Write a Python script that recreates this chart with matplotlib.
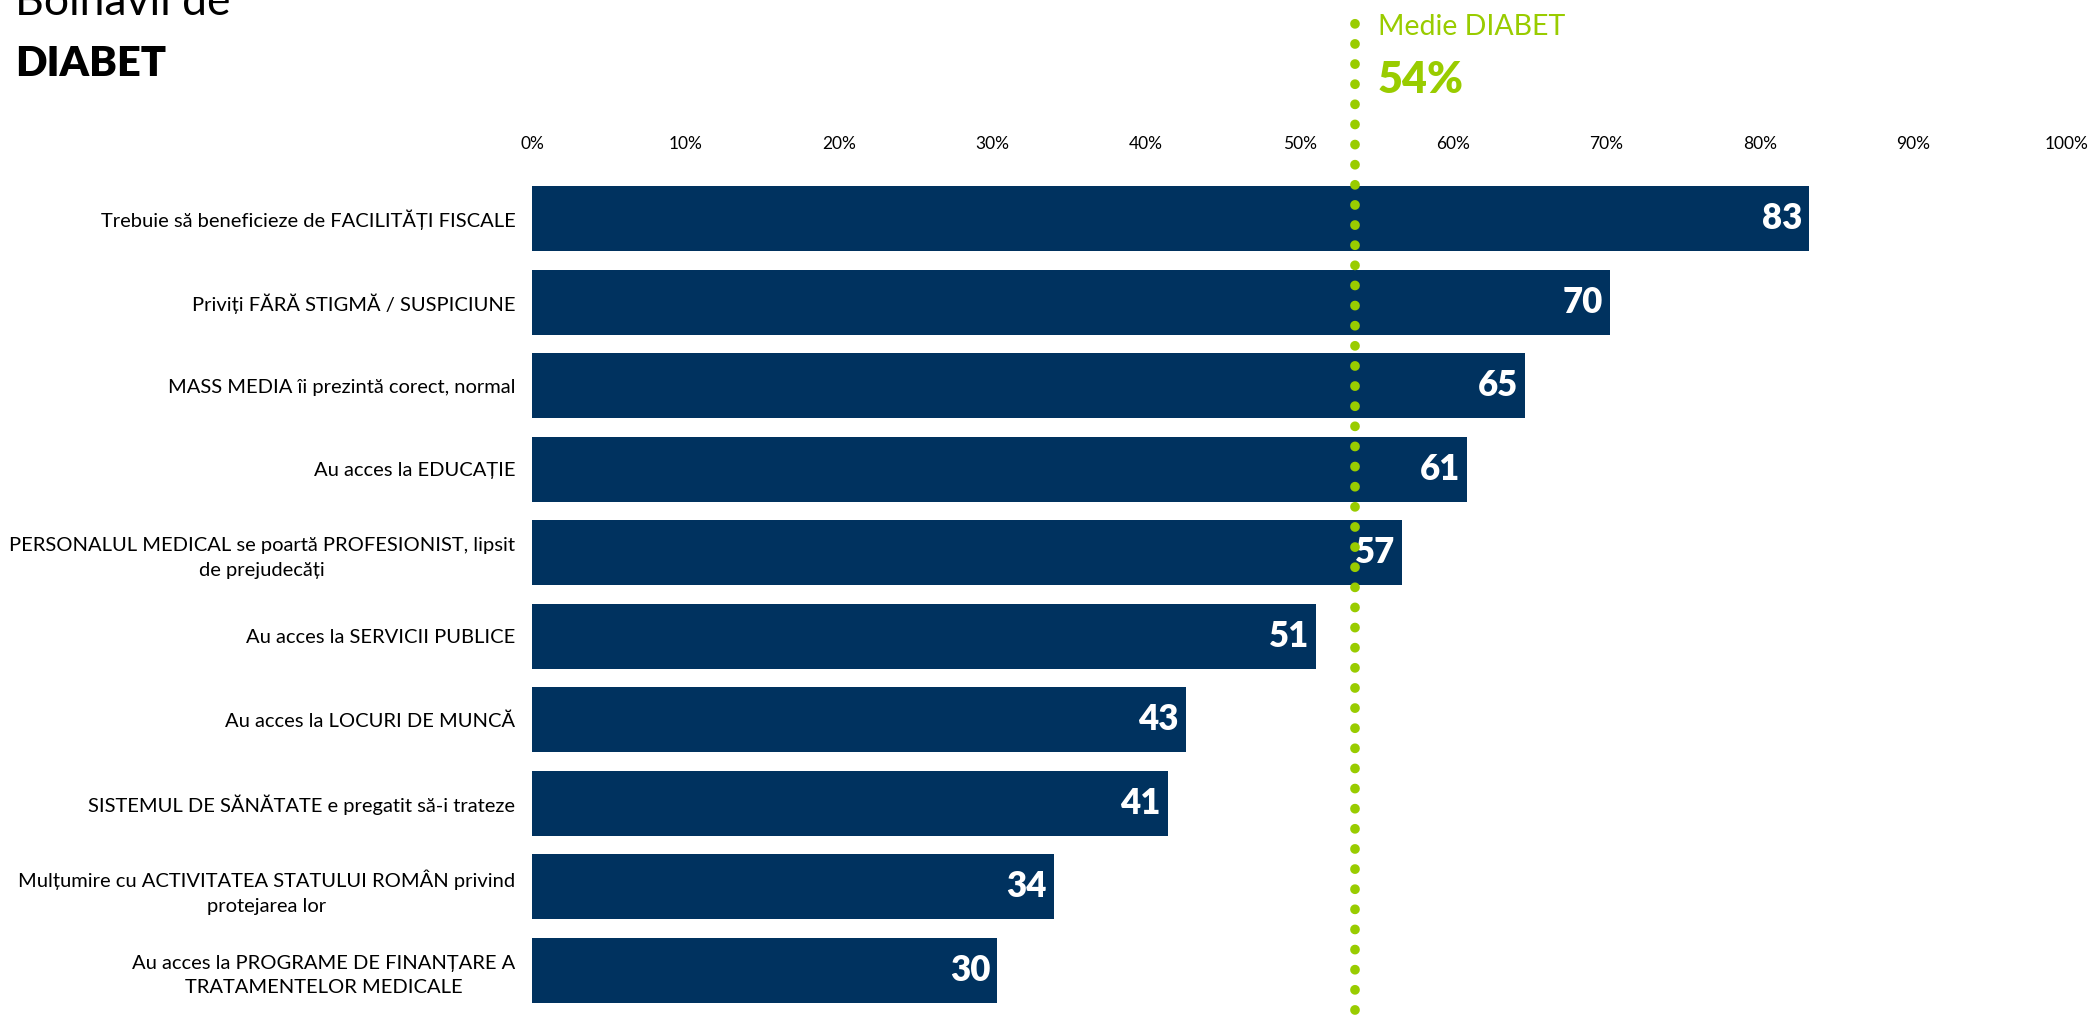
import matplotlib
matplotlib.use("Agg")
import matplotlib.pyplot as plt
import matplotlib.transforms as mtransforms

# ---- data ----
categories = [
    "Trebuie să beneficieze de FACILITĂȚI FISCALE",
    "Priviți FĂRĂ STIGMĂ / SUSPICIUNE",
    "MASS MEDIA îi prezintă corect, normal",
    "Au acces la EDUCAȚIE",
    "PERSONALUL MEDICAL se poartă PROFESIONIST, lipsit\nde prejudecăți",
    "Au acces la SERVICII PUBLICE",
    "Au acces la LOCURI DE MUNCĂ",
    "SISTEMUL DE SĂNĂTATE e pregatit să-i trateze",
    "Mulțumire cu ACTIVITATEA STATULUI ROMÂN privind\nprotejarea lor",
    "Au acces la PROGRAME DE FINANȚARE A\nTRATAMENTELOR MEDICALE",
]
values = [83.2, 70.2, 64.7, 60.9, 56.7, 51.1, 42.6, 41.4, 34.0, 30.3]
value_labels = ["83", "70", "65", "61", "57", "51", "43", "41", "34", "30"]
tick_values = [0, 10, 20, 30, 40, 50, 60, 70, 80, 90, 100]
tick_labels = [f"{t}%" for t in tick_values]
avg_value = 53.6
avg_label = "54%"

BAR_COLOR = "#00325F"
GREEN = "#99CC00"

plt.rcParams["font.family"] = ["Lato", "Noto Sans", "DejaVu Sans"]

fig = plt.figure(figsize=(20.93, 10.16), dpi=100)
ax = fig.add_axes([0.2542, 0.0039, 0.7334, 0.822])

ypos = list(range(len(categories)))
ax.barh(ypos, values, height=0.78, color=BAR_COLOR, zorder=2)
ax.set_xlim(0, 100)
ax.set_ylim(len(categories) - 0.5, -0.5)

# category labels, right-aligned and centred when wrapped
ax.set_yticks(ypos)
ax.set_yticklabels(categories, fontsize=14.5, multialignment="center",
                   linespacing=1.55)
ax.tick_params(axis="y", length=0, pad=12)

ax.set_xticks(tick_values)
ax.set_xticklabels(tick_labels, fontsize=12.5)
ax.tick_params(axis="x", length=0, top=True, bottom=False,
               labeltop=True, labelbottom=False, pad=18)

for s in ax.spines.values():
    s.set_visible(False)

# value labels inside bar ends
for y, v, lab in zip(ypos, values, value_labels):
    ax.annotate(lab, xy=(v, y), xytext=(-5, 0), textcoords="offset points",
                ha="right", va="center", color="white", fontsize=25,
                fontweight="heavy", zorder=3)

# dotted average line running up into the header
trans = mtransforms.blended_transform_factory(ax.transData, ax.transAxes)
ax.plot([avg_value, avg_value], [0.002, 1.195], transform=trans, clip_on=False,
        color=GREEN, lw=7, linestyle=(0, (0.01, 2.06)),
        dash_capstyle="round", zorder=4)

fig.text(0.6584, 0.973, "Medie DIABET", color=GREEN, fontsize=20.5,
         ha="left", va="center")
fig.text(0.6584, 0.921, avg_label, color=GREEN, fontsize=31,
         fontweight="heavy", ha="left", va="center")

# title, partly cut at the top edge as in the source
fig.text(0.0072, 0.985, "Bolnavii de", fontsize=32, ha="left", va="baseline")
fig.text(0.0072, 0.925, "DIABET", fontsize=30, fontweight="heavy",
         ha="left", va="baseline")

fig.savefig("out.png", dpi=100)
